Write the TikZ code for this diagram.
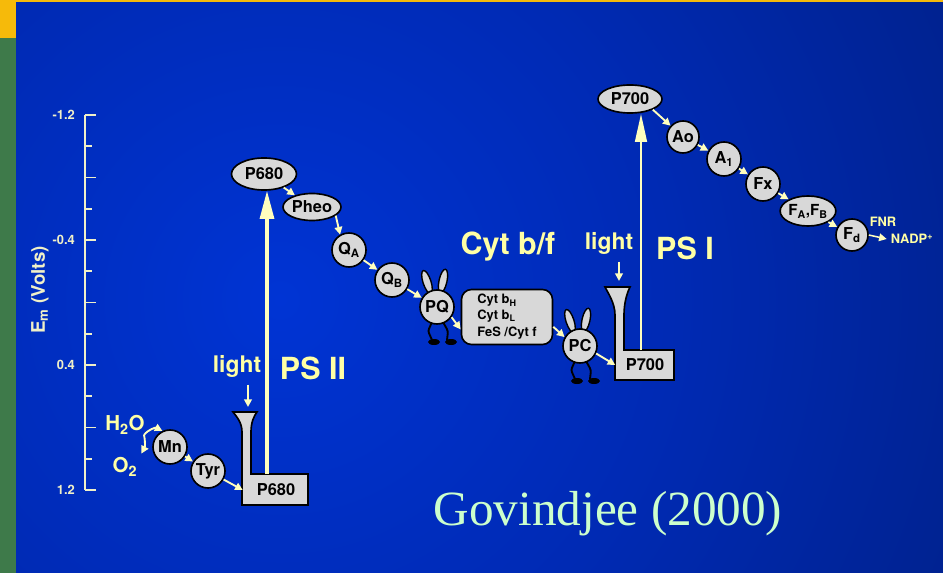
\documentclass[tikz,border=0pt]{standalone}
\usepackage{fontspec}
\setmainfont{TeX Gyre Heros}
\newfontfamily\citefont{Liberation Serif}
\usetikzlibrary{shapes.geometric, arrows.meta}

\definecolor{carriergray}{RGB}{216, 216, 216}
\definecolor{flowyellow}{RGB}{255, 255, 190}
\definecolor{tagyellow}{RGB}{255, 255, 165}
\definecolor{axiscream}{RGB}{240, 240, 200}
\definecolor{citegreen}{RGB}{204, 255, 204}
\definecolor{slidegreen}{RGB}{62, 122, 74}
\definecolor{slidegold}{RGB}{246, 186, 10}
\definecolor{glowcore}{RGB}{0, 52, 212}
\definecolor{glowmid}{RGB}{0, 42, 180}
\definecolor{glowedge}{RGB}{0, 32, 135}
\definecolor{glowdark}{RGB}{0, 16, 68}
\definecolor{glownight}{RGB}{0, 4, 20}

\pgfdeclareradialshading{slideglow}{\pgfpoint{0bp}{0bp}}{%
  color(0bp)=(glowcore); color(13bp)=(glowmid); color(27bp)=(glowedge);
  color(35bp)=(glowdark); color(44bp)=(glownight); color(50bp)=(glownight)}

\begin{document}
\begin{tikzpicture}[
        x=0.3mm, y=-0.3mm,
        carrier/.style={circle, draw=black, line width=1.4pt, fill=carriergray,
                        inner sep=0pt, minimum size=10.2mm,
                        font=\fontsize{14}{14}\selectfont\bfseries},
        pigment/.style={ellipse, draw=black, line width=1.4pt, fill=carriergray,
                        inner sep=0pt, font=\fontsize{14}{14}\selectfont\bfseries},
        core/.style={rectangle, inner sep=0pt, font=\fontsize{14}{14}\selectfont\bfseries},
        antenna/.style={draw=black, line width=1.4pt, fill=carriergray},
        cytbox/.style={rectangle, rounded corners=3mm, draw=black, line width=1.4pt,
                       fill=carriergray, minimum width=27.3mm, minimum height=16.5mm,
                       align=left, font=\fontsize{11}{13}\selectfont\bfseries},
        ear/.style={draw=black, line width=1.2pt, fill=carriergray},
        leg/.style={draw=black, line width=1.6pt, rounded corners=2pt},
        flow/.style={-{Triangle[width=6.5pt,length=6.5pt]}, line width=1.6pt, draw=flowyellow},
        excite/.style={-{Triangle[width=12pt,length=24pt]}, draw=flowyellow},
        axis/.style={draw=axiscream, line width=1.7pt},
        ticktext/.style={text=axiscream, font=\fontsize{11}{11}\selectfont\bfseries},
        tag/.style={text=tagyellow, font=\fontsize{19.5}{19.5}\selectfont\bfseries},
        heading/.style={text=tagyellow, font=\fontsize{26}{26}\selectfont\bfseries}
    ]
        \useasboundingbox (0,0) rectangle (943,573);

        % slide background
        \fill[slidegreen] (0,0) rectangle (16,573);
        \fill[slidegold] (0,0) rectangle (943,3);
        \fill[slidegold] (0,0) rectangle (16,38);
        \begin{scope}
            \clip (16,3) rectangle (943,573);
            \shade[shading=slideglow] (280,300) circle [radius=225mm];
        \end{scope}

        % potential axis
        \draw[axis] (85,115) -- (85,490);
        \foreach \k in {0,2,...,12}
            \draw[axis] (85,{115+31.25*\k}) -- ++(11,0);
        \foreach \k in {1,3,...,11}
            \draw[axis] (85,{115+31.25*\k}) -- ++(7,0);
        \foreach \k/\v in {0/-1.2, 4/-0.4, 8/0.4, 12/1.2}
            \node[ticktext, anchor=east] (tick\k) at (79,{115+31.25*\k}) {\v};
        \node[ticktext, rotate=90, font=\fontsize{16}{16}\selectfont\bfseries]
            (emaxis) at (40,290) {E\textsubscript{m} (Volts)};

        % water side
        \node[tag, font=\fontsize{17.5}{17.5}\selectfont\bfseries] (h2o) at (125,425) {H\textsubscript{2}O};
        \node[tag, font=\fontsize{17.5}{17.5}\selectfont\bfseries] (o2) at (125,467) {O\textsubscript{2}};
        \coordinate (split) at (144,435);
        \node[carrier] (mn) at (170,447) {Mn};
        \node[carrier] (tyr) at (208,471) {Tyr};
        \draw[flow] (split) to[bend left=40] (mn);
        \draw[flow] (split) to[bend left=20] (o2);
        \draw[flow] (mn) -- (tyr);

        % PS II reaction centre with its antenna funnel
        \draw[antenna] (242,505) -- (242,432) .. controls (242,422) and (236,416) .. (233,412)
            -- (257,412) .. controls (254,416) and (251,422) .. (251,432)
            -- (251,474) -- (308,474) -- (308,505) -- cycle;
        \node[core, minimum width=19.8mm, minimum height=9.3mm] (rc2) at (276,490) {P680};
        \draw[flow] (tyr) -- (rc2.west);
        \node[tag] (light2) at (237,366) {light};
        \coordinate (funnel2) at (248,407);
        \draw[flow, shorten <=3pt] (light2.south -| funnel2) -- (funnel2);
        \node[heading] (ps2) at (313,368) {PS II};

        % excited P680 and the acceptors
        \node[pigment, minimum width=19.5mm, minimum height=9.6mm] (p680) at (264,174) {P680};
        \coordinate (rc2top) at (267,474);
        \draw[excite, line width=2.6pt] (rc2top) -- (rc2top |- p680.south);
        \node[pigment, minimum width=17.4mm, minimum height=8.1mm] (pheo) at (312,207) {Pheo};
        \node[carrier] (qa) at (349,250) {Q\textsubscript{A}};
        \node[carrier] (qb) at (392,280) {Q\textsubscript{B}};
        \draw[flow] (p680) -- (pheo);
        \draw[flow] (pheo.-20) -- (qa.120);
        \draw[flow] (qa) -- (qb);

        % plastoquinone and plastocyanin walk on legs
        \foreach \m/\t/\px/\py in {pq/PQ/437/307, pc/PC/580/346} {
            \draw[ear, rotate around={18:(\px-10,\py-25)}] (\px-10,\py-25)
                ellipse [x radius=1.2mm, y radius=3.6mm];
            \draw[ear, rotate around={-12:(\px+6,\py-26)}] (\px+6,\py-26)
                ellipse [x radius=1.2mm, y radius=3.6mm];
            \draw[leg] (\px-5,\py+15) -- (\px-9,\py+24) -- (\px-5,\py+33);
            \draw[leg] (\px+6,\py+15) -- (\px+11,\py+24) -- (\px+10,\py+33);
            \fill (\px-3,\py+35) ellipse [x radius=1.8mm, y radius=0.9mm];
            \fill (\px+14,\py+35) ellipse [x radius=1.8mm, y radius=0.9mm];
            \node[carrier] (\m) at (\px,\py) {\t};
        }
        \draw[flow] (qb) -- (pq);

        % cytochrome b6/f complex
        \node[heading] (cytlabel) at (508,247) {Cyt b/f};
        \node[cytbox] (cytbf) at (507,317)
            {Cyt b\textsubscript{H}\\Cyt b\textsubscript{L}\\[2pt]FeS /Cyt f};
        \draw[flow] (pq.-35) -- (cytbf.195);
        \draw[flow] (cytbf.-12) -- (pc.150);

        % PS I reaction centre with its antenna funnel
        \draw[antenna] (615,380) -- (615,315) .. controls (615,303) and (608,293) .. (605,287)
            -- (630,287) .. controls (627,293) and (624,303) .. (624,315)
            -- (624,350) -- (674,350) -- (674,380) -- cycle;
        \node[core, minimum width=17.7mm, minimum height=9mm] (rc1) at (645,365) {P700};
        \draw[flow] (pc.-25) -- (rc1.west);
        \node[tag] (light1) at (609,243) {light};
        \coordinate (funnel1) at (619,281);
        \draw[flow, shorten <=3pt] (light1.south -| funnel1) -- (funnel1);
        \node[heading] (ps1) at (685,248) {PS I};

        % excited P700 and the acceptors down to NADP+
        \node[pigment, minimum width=19.2mm, minimum height=8.4mm] (p700) at (630,99) {P700};
        \coordinate (rc1top) at (641,350);
        \draw[excite, line width=2pt, -{Triangle[width=10pt,length=24pt]}]
            (rc1top) -- (rc1top |- p700.south);
        \node[carrier, minimum size=9.6mm] (ao) at (683,137) {Ao};
        \node[carrier] (a1) at (724,159) {A\textsubscript{1}};
        \node[carrier] (fx) at (763,184) {Fx};
        \node[pigment, minimum width=14.1mm, minimum height=9mm, font=\fontsize{13}{13}\selectfont\bfseries]
            (fab) at (808,211) {F\textsubscript{A},F\textsubscript{B}};
        \node[carrier, minimum size=9.6mm] (fd) at (852,235) {F\textsubscript{d}};
        \draw[flow] (p700.-25) -- (ao);
        \draw[flow] (ao) -- (a1);
        \draw[flow] (a1) -- (fx);
        \draw[flow] (fx) -- (fab);
        \draw[flow] (fab) -- (fd);
        \node[tag, font=\fontsize{11}{11}\selectfont\bfseries] (fnr) at (883,222) {FNR};
        \node[tag, font=\fontsize{11}{11}\selectfont\bfseries] (nadp) at (912,239) {NADP\textsuperscript{+}};
        \draw[flow, line width=1.3pt] (fd.east) -- (nadp.west);

        % citation
        \node[text=citegreen, font=\citefont\fontsize{42}{42}\selectfont] (cite) at (608,514)
            {Govindjee (2000)};
    \end{tikzpicture}
\end{document}
